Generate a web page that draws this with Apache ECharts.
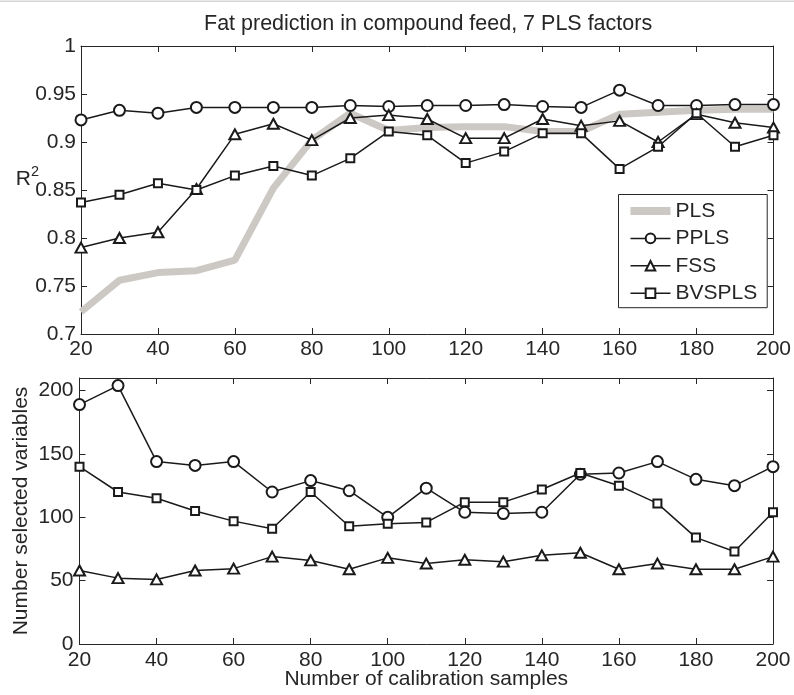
<!DOCTYPE html>
<html>
<head>
<meta charset="utf-8">
<script src="https://cdn.jsdelivr.net/npm/echarts@6/dist/echarts.min.js"></script>
<style>
html,body{margin:0;padding:0;background:#fff;}
#chart{width:794px;height:695px;}
</style>
</head>
<body>
<div id="chart"></div>
<script>
const categories = [20,30,40,50,60,70,80,90,100,110,120,130,140,150,160,170,180,190,200];

const r2PLS    = [0.723,0.756,0.764,0.766,0.777,0.852,0.902,0.930,0.912,0.915,0.916,0.916,0.911,0.911,0.929,0.931,0.933,0.934,0.934];
const r2PPLS   = [0.923,0.933,0.930,0.936,0.936,0.936,0.936,0.938,0.937,0.938,0.938,0.939,0.937,0.936,0.954,0.938,0.938,0.939,0.939];
const r2FSS    = [0.790,0.800,0.806,0.851,0.908,0.919,0.902,0.925,0.928,0.924,0.904,0.904,0.924,0.917,0.922,0.900,0.929,0.920,0.915];
const r2BVSPLS = [0.837,0.845,0.857,0.850,0.865,0.875,0.865,0.883,0.911,0.907,0.878,0.890,0.909,0.909,0.872,0.895,0.930,0.895,0.907];

const nvPPLS   = [189,204,144,141,144,120,129,121,100,123,104,103,104,134,135,144,130,125,140];
const nvFSS    = [58,52,51,58,59.5,69,66,59,68,63.5,66.5,65,70,72,59,63.5,59,59,69];
const nvBVSPLS = [140,120,115,105,97,91,120,93,95,96,112,112,122,135,125,111,84,73,104];

const seriesNames = ['PLS','PPLS','FSS','BVSPLS'];

const TXT = '#262626';
const LINE = '#1a1a1a';
const GRAY = '#ccc8c3';
const FONT = '"Liberation Sans", Arial, Helvetica, sans-serif';

function pairs(vals){ return categories.map((c,i)=>[c, vals[i]]); }

function xAx(grid, pos, showLabel, margin, extra){
  return Object.assign({
    type:'value', gridIndex:grid, position:pos, min:20, max:200, interval:20,
    nameMoveOverlap:false,
    axisLine:{show:true, onZero:false, lineStyle:{color:TXT, width:1}},
    axisTick:{show:true, inside:true, length:6, lineStyle:{color:TXT, width:1}},
    axisLabel:{show:showLabel, margin:margin, fontSize:21, color:TXT, fontFamily:FONT},
    splitLine:{show:false}
  }, extra||{});
}
function yAx(grid, pos, showLabel, min, max, interval, margin, extra){
  return Object.assign({
    type:'value', gridIndex:grid, position:pos, min:min, max:max, interval:interval,
    nameMoveOverlap:false,
    axisLine:{show:true, onZero:false, lineStyle:{color:TXT, width:1}},
    axisTick:{show:true, inside:true, length:6, lineStyle:{color:TXT, width:1}},
    axisLabel:{show:showLabel, margin:margin, fontSize:21, color:TXT, fontFamily:FONT, showMaxLabel: max===1},
    splitLine:{show:false}
  }, extra||{});
}

function blackSeries(name, sym, size, vals, xi, yi){
  return {
    name:name, type:'line', xAxisIndex:xi, yAxisIndex:yi, data:pairs(vals),
    symbol:sym, symbolSize:size, showAllSymbol:true,
    lineStyle:{color:LINE, width:1.5},
    itemStyle:{color:LINE, borderColor:LINE, borderWidth:1.5},
    emphasis:{disabled:true}, z:3
  };
}

const legendItems = seriesNames.map(n => n === 'PLS'
  ? {name:n, itemStyle:{opacity:0}, lineStyle:{width:8, color:GRAY}}
  : {name:n, lineStyle:{width:1.5}});

const option = {
  animation:false,
  backgroundColor:'#fff',
  textStyle:{fontFamily:FONT, color:TXT},
  title:{
    text:'Fat prediction in compound feed, 7 PLS factors',
    left:204, top:13, padding:0,
    textStyle:{fontSize:21.5, fontWeight:'normal', color:TXT, fontFamily:FONT}
  },
  graphic:[{type:'rect', shape:{x:0,y:0.5,width:794,height:1.5}, style:{fill:'#d4d4d4'}, silent:true}],
  legend:{
    orient:'vertical', left:618.5, top:194.5,
    padding:[6,10,4,8], itemGap:6.4, itemWidth:40, itemHeight:12,
    borderColor:TXT, borderWidth:1, backgroundColor:'#fff',
    textStyle:{fontSize:21, color:TXT, fontFamily:FONT},
    data:legendItems, selectedMode:false
  },
  grid:[
    {left:81, top:46, width:694, height:288},
    {left:79.5, top:378, width:693.5, height:266}
  ],
  xAxis:[
    xAx(0,'bottom',true,5),
    xAx(0,'top',false,5),
    xAx(1,'bottom',true,6,{name:'Number of calibration samples', nameLocation:'middle', nameGap:25,
       nameTextStyle:{fontSize:21, color:TXT, fontFamily:FONT}}),
    xAx(1,'top',false,6)
  ],
  yAxis:[
    yAx(0,'left',true,0.7,1,0.05,5,{
      name:'{r|R}{s|2}', nameLocation:'middle', nameRotate:0, nameGap:42,
      nameTextStyle:{align:'right', verticalAlign:'middle', padding:[0,0,26,0],
        rich:{r:{fontSize:21, color:TXT, fontFamily:FONT, padding:[4,0,0,0]},
              s:{fontSize:14.5, color:TXT, fontFamily:FONT, verticalAlign:'top'}}}
    }),
    yAx(0,'right',false,0.7,1,0.05,5),
    yAx(1,'left',true,0,210,50,6,{
      name:'Number selected variables', nameLocation:'middle', nameGap:47.5, nameRotate:90,
      nameTextStyle:{fontSize:21, color:TXT, fontFamily:FONT}
    }),
    yAx(1,'right',false,0,210,50,6)
  ],
  series:[
    {name:'PLS', type:'line', xAxisIndex:0, yAxisIndex:0, data:pairs(r2PLS),
     symbol:'none', lineStyle:{color:GRAY, width:7}, itemStyle:{color:GRAY},
     emphasis:{disabled:true}, z:2},
    blackSeries('PPLS','emptyCircle',11,r2PPLS,0,0),
    blackSeries('FSS','emptyTriangle',[11,10],r2FSS,0,0),
    blackSeries('BVSPLS','emptyRect',8,r2BVSPLS,0,0),
    blackSeries('PPLS','emptyCircle',11,nvPPLS,2,2),
    blackSeries('FSS','emptyTriangle',[11,10],nvFSS,2,2),
    blackSeries('BVSPLS','emptyRect',8,nvBVSPLS,2,2)
  ]
};

const chart = echarts.init(document.getElementById('chart'), null, {renderer:'canvas'});
chart.setOption(option);
</script>
</body>
</html>
